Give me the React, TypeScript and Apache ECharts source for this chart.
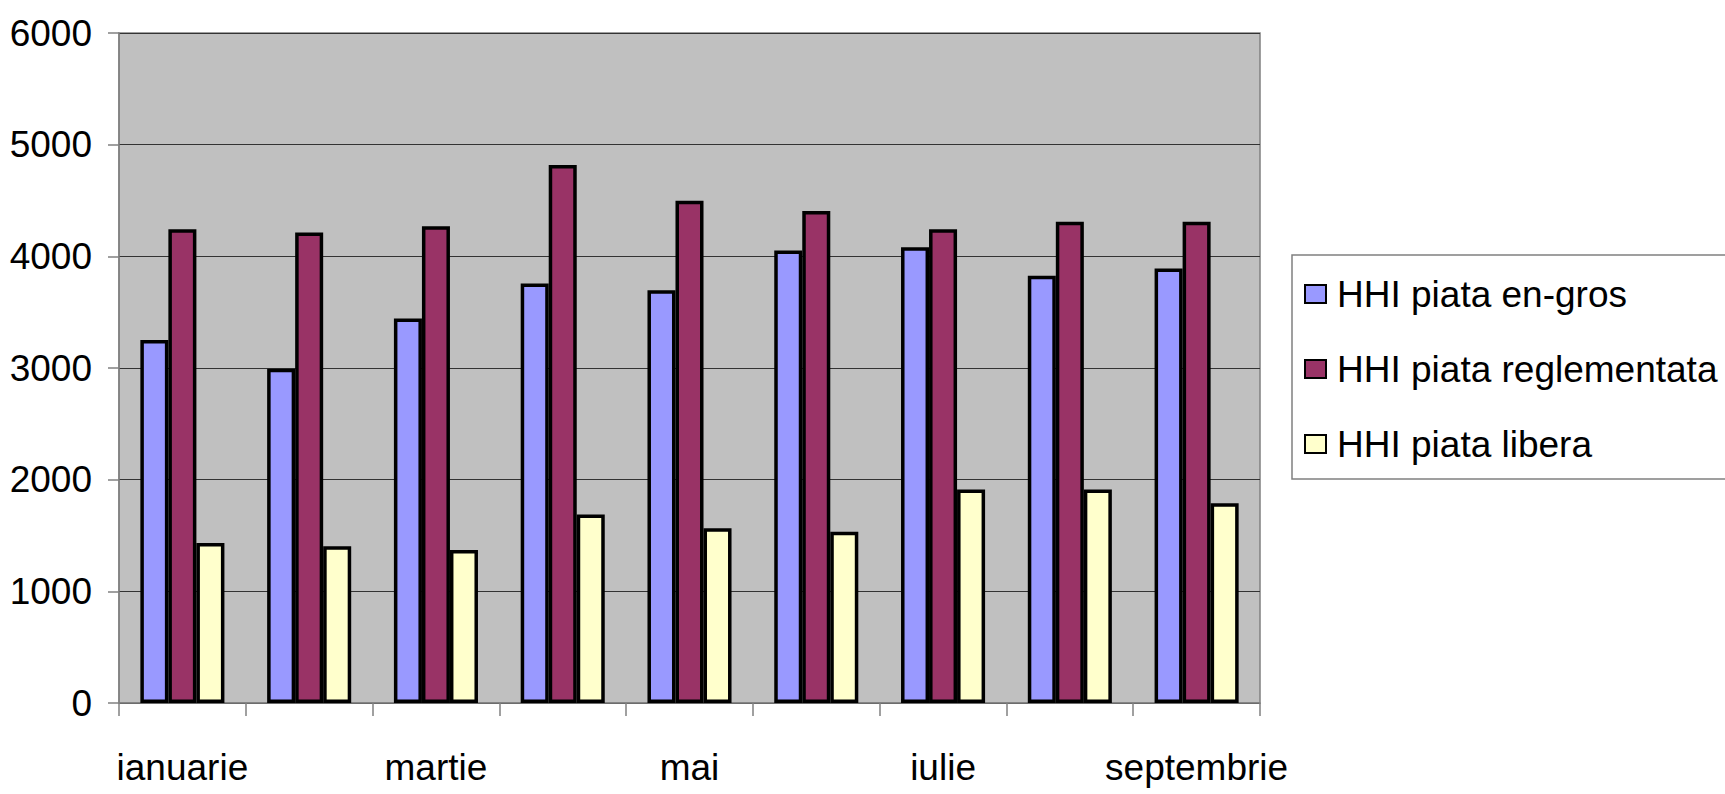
import React, { useEffect, useRef } from "react";
import * as echarts from "echarts";

const categories = [
  "ianuarie",
  "februarie",
  "martie",
  "aprilie",
  "mai",
  "iunie",
  "iulie",
  "august",
  "septembrie",
];
const seriesNames = ["HHI piata en-gros", "HHI piata reglementata", "HHI piata libera"];
const enGros = [3250, 2993, 3444, 3757, 3697, 4053, 4082, 3826, 3892];
const reglementata = [4243, 4214, 4270, 4819, 4497, 4405, 4243, 4309, 4309];
const libera = [1432, 1403, 1370, 1689, 1564, 1534, 1913, 1913, 1788];
const colors = ["#9999FF", "#993366", "#FFFFCC"];
const yTicks = { min: 0, max: 6000, interval: 1000 };

const FONT = "'Liberation Sans', Arial, sans-serif";

export default function App() {
  const ref = useRef<HTMLDivElement>(null);
  useEffect(() => {
    if (!ref.current) return;
    const chart = echarts.init(ref.current, undefined, { renderer: "svg" });
    const values = [enGros, reglementata, libera];
    chart.setOption({
      animation: false,
      backgroundColor: "#ffffff",
      textStyle: { fontFamily: FONT },
      grid: {
        left: 119,
        right: 465,
        top: 33,
        bottom: 91,
        show: true,
        backgroundColor: "#C0C0C0",
        borderColor: "#808080",
        borderWidth: 1.5,
      },
      legend: {
        orient: "vertical",
        left: 1292,
        top: 255,
        padding: [19, 300, 15, 12],
        borderColor: "#808080",
        borderWidth: 1.5,
        backgroundColor: "#ffffff",
        itemWidth: 21,
        itemHeight: 18,
        itemGap: 35,
        icon: "rect",
        itemStyle: { borderColor: "#000", borderWidth: 2 },
        textStyle: {
          fontFamily: FONT,
          fontSize: 37,
          color: "#000",
          lineHeight: 40,
          padding: [0, 0, 0, 6],
        },
        data: seriesNames,
      },
      xAxis: {
        type: "category",
        data: categories,
        boundaryGap: true,
        axisLine: { show: true, lineStyle: { color: "#808080", width: 1.5 } },
        axisTick: { show: true, length: 13, interval: 0, lineStyle: { color: "#808080", width: 1.5 } },
        axisLabel: {
          interval: 1,
          margin: 46,
          color: "#000",
          fontFamily: FONT,
          fontSize: 37,
        },
        splitLine: { show: false },
      },
      yAxis: {
        type: "value",
        min: yTicks.min,
        max: yTicks.max,
        interval: yTicks.interval,
        axisLine: { show: true, lineStyle: { color: "#808080", width: 1.5 } },
        axisTick: { show: true, length: 11, lineStyle: { color: "#808080", width: 1.5 } },
        axisLabel: {
          margin: 27,
          color: "#000",
          fontFamily: FONT,
          fontSize: 37,
          formatter: (v: number) => String(v),
        },
        splitLine: { show: true, lineStyle: { color: "#333333", width: 1 } },
      },
      series: seriesNames.map((name, i) => ({
        name,
        type: "bar",
        data: values[i],
        barGap: "0%",
        barCategoryGap: "33.7%",
        itemStyle: { color: colors[i], borderColor: "#000", borderWidth: 3.5 },
      })),
    });
    return () => chart.dispose();
  }, []);
  return (
    <div
      ref={ref}
      style={{ position: "fixed", left: 0, top: 0, width: 1725, height: 794 }}
    />
  );
}
